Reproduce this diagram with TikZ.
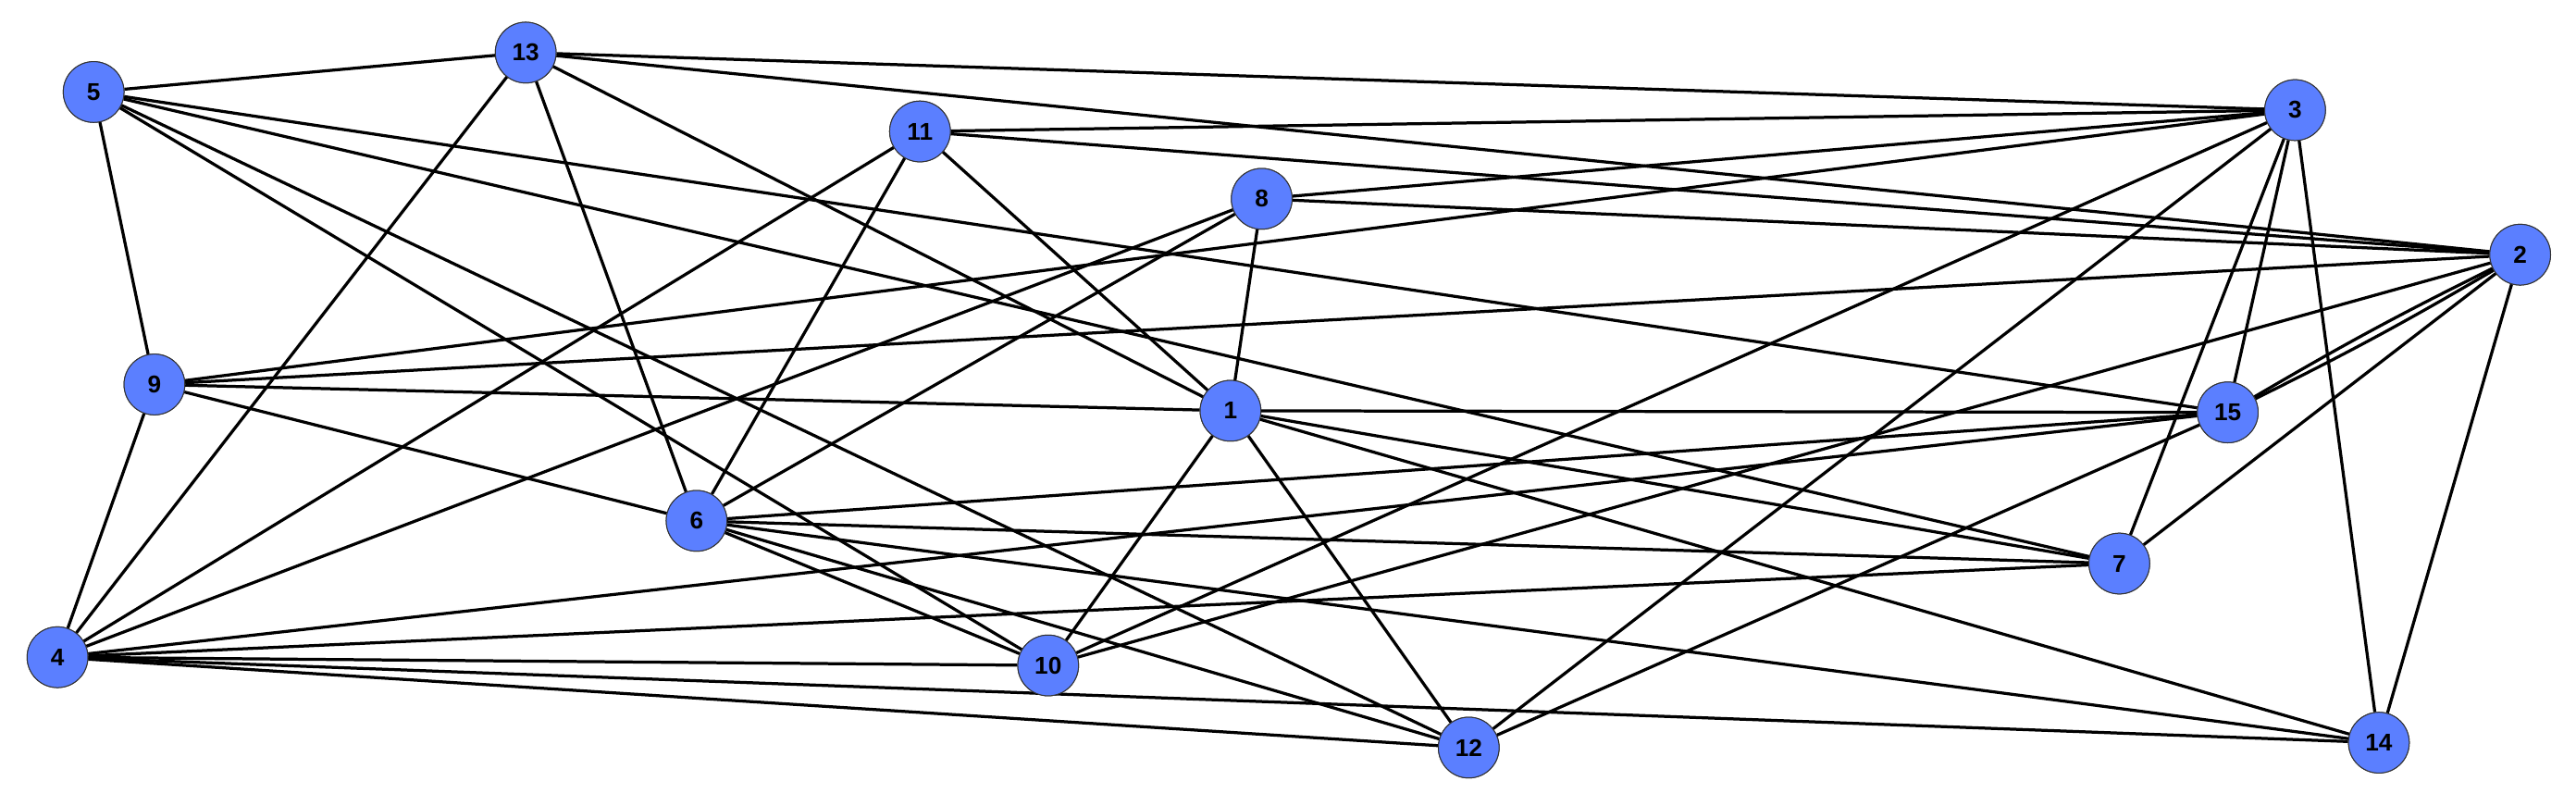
\documentclass[tikz,border=0pt]{standalone}
\usepackage{fontspec}
\setmainfont{Liberation Sans}
\definecolor{nodeblue}{HTML}{5B7FFF}
\begin{document}
\begin{tikzpicture}[x=0.05cm,y=-0.05cm,
  vtx/.style={circle,draw=black!80,line width=0.8pt,fill=nodeblue,minimum size=1.85cm,inner sep=0pt,font=\fontsize{21}{21}\selectfont\bfseries},
  edge/.style={line width=2.6pt,black}]
\useasboundingbox (0,0) rectangle (1568,490);
\node[vtx] (n5) at (57,56) {5};
\node[vtx] (n13) at (320,32) {13};
\node[vtx] (n11) at (560,80) {11};
\node[vtx] (n8) at (768,121) {8};
\node[vtx] (n3) at (1397,67) {3};
\node[vtx] (n2) at (1534,155) {2};
\node[vtx] (n9) at (94,234) {9};
\node[vtx] (n1) at (749,250) {1};
\node[vtx] (n15) at (1356,251) {15};
\node[vtx] (n6) at (424,317) {6};
\node[vtx] (n7) at (1290,343) {7};
\node[vtx] (n4) at (35,400) {4};
\node[vtx] (n10) at (638,405) {10};
\node[vtx] (n12) at (894,455) {12};
\node[vtx] (n14) at (1448,452) {14};
\begin{scope}[on background layer/.style={}]
\end{scope}
\begin{pgfonlayer}{main}\end{pgfonlayer}
\foreach \a/\b in {5/13,5/9,5/10,5/12,5/15,5/7,
  13/3,13/2,13/1,13/6,13/4,
  11/3,11/2,11/1,11/6,11/4,
  8/3,8/2,8/1,8/6,8/4,
  3/9,3/10,3/12,3/7,3/15,3/14,
  2/9,2/10,2/7,2/14,
  9/4,9/1,9/6,
  1/15,1/7,1/14,1/12,1/10,
  6/15,6/7,6/10,6/12,6/14,
  4/15,4/7,4/10,4/12,4/14,
  15/12}
  \draw[edge] (n\a) -- (n\b);
\draw[edge] (n2) to[bend left=2] (n15);
\draw[edge] (n2) to[bend right=2] (n15);
\foreach \n in {5,13,11,8,3,2,9,1,15,6,7,4,10,12,14}
  \node[vtx] at (n\n) {\n};
\end{tikzpicture}
\end{document}
